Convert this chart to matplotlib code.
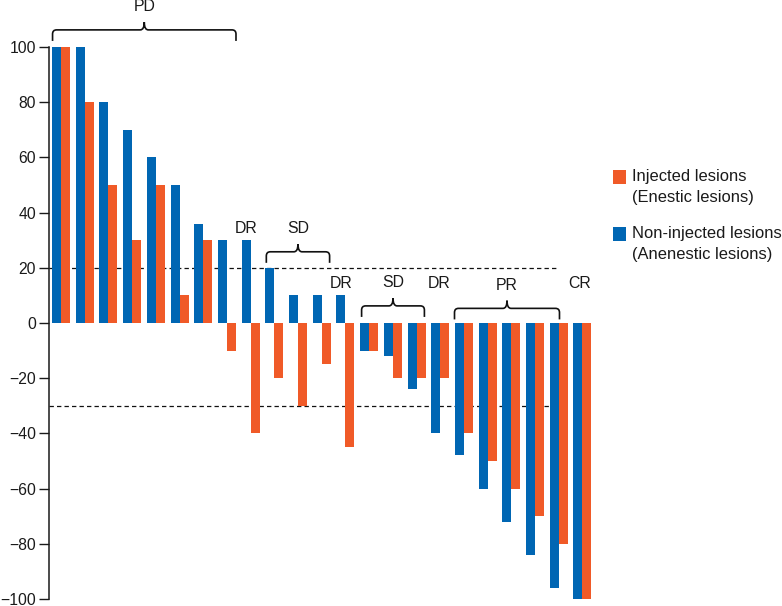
#!/usr/bin/env python3

import matplotlib

matplotlib.use("Agg")
import matplotlib.pyplot as plt
import numpy as np
from matplotlib.patches import PathPatch, Rectangle
from matplotlib.path import Path

# per-patient best change from baseline (%)
NON_INJECTED = [100, 100, 80, 70, 60, 50, 36, 30, 30, 20, 10, 10, 10,
                -10, -12, -24, -40, -48, -60, -72, -84, -96, -100]
INJECTED = [100, 80, 50, 30, 50, 10, 30, -10, -40, -20, -30, -15, -45,
            -10, -20, -20, -20, -40, -50, -60, -70, -80, -100]

Y_TICKS = [100, 80, 60, 40, 20, 0, -20, -40, -60, -80, -100]
THRESHOLDS = [20, -30]

# response groups: label, x start, x end, brace height
BRACES = [
    ("PD", -0.36, 7.38, 106.2),
    ("SD", 8.66, 11.33, 25.8),
    ("SD", 12.68, 15.33, 6.2),
    ("PR", 16.6, 21.03, 5.3),
]
# single labels: text, x, y
SINGLE_LABELS = [
    ("DR", 7.8, 34.4),
    ("DR", 11.8, 14.4),
    ("DR", 15.95, 14.4),
    ("CR", 21.9, 14.4),
]

LEGEND_LABELS = ["Injected lesions\n(Enestic lesions)",
                 "Non-injected lesions\n(Anenestic lesions)"]

ORANGE = "#f05a28"
BLUE = "#0066b3"
TEXT = "#1a1a1a"
TICK_FONT = 11.3
LABEL_FONT = 11.4
LEGEND_FONT = 11.9
BAR_W = 0.38

plt.rcParams.update({"font.family": ["Liberation Sans", "DejaVu Sans"]})

W, H = 782, 606
fig = plt.figure(figsize=(W / 100, H / 100), dpi=100)
ax_left, ax_right = 49, 596.7
ax_top, ax_bottom = 47, 599
ax = fig.add_axes([ax_left / W, 1 - ax_bottom / H,
                   (ax_right - ax_left) / W, (ax_bottom - ax_top) / H])

x = np.arange(len(NON_INJECTED))
ax.bar(x - BAR_W / 2, NON_INJECTED, width=BAR_W, color=BLUE, linewidth=0, zorder=2)
ax.bar(x + BAR_W / 2, INJECTED, width=BAR_W, color=ORANGE, linewidth=0, zorder=2)

for yv in THRESHOLDS:
    ax.plot([-0.51, 21.0], [yv, yv], color="#111111", lw=0.9,
            linestyle=(0, (3.5, 2.5)), zorder=1)

ax.set_xlim(-0.51, 22.6)
ax.set_ylim(-100, 100)
ax.set_yticks(Y_TICKS)
ax.set_xticks([])
ax.tick_params(axis="y", direction="out", length=7, width=1.0, pad=2.3,
               labelsize=TICK_FONT, colors=TEXT)
for side in ("top", "right", "bottom"):
    ax.spines[side].set_visible(False)
ax.spines["left"].set_linewidth(1.1)
ax.spines["left"].set_color(TEXT)


def draw_brace(x0, x1, y, drop=4.0, rise=2.8, rx=0.17, ry=1.5):
    xm = (x0 + x1) / 2
    verts = [
        (x0, y - drop), (x0, y - ry),
        (x0, y), (x0 + rx, y),
        (xm - rx, y),
        (xm, y), (xm, y + rise),
        (xm, y), (xm + rx, y),
        (x1 - rx, y),
        (x1, y), (x1, y - ry),
        (x1, y - drop),
    ]
    codes = [Path.MOVETO, Path.LINETO,
             Path.CURVE3, Path.CURVE3,
             Path.LINETO,
             Path.CURVE3, Path.CURVE3,
             Path.CURVE3, Path.CURVE3,
             Path.LINETO,
             Path.CURVE3, Path.CURVE3,
             Path.LINETO]
    ax.add_patch(PathPatch(Path(verts, codes), facecolor="none",
                           edgecolor="#111111", lw=1.2, clip_on=False, zorder=3))
    return xm


for label, x0, x1, yb in BRACES:
    xm = draw_brace(x0, x1, yb)
    ax.text(xm, yb + 8.4, label, ha="center", va="center", fontsize=LABEL_FONT,
            color=TEXT, clip_on=False)

for label, lx, ly in SINGLE_LABELS:
    ax.text(lx, ly, label, ha="center", va="center", fontsize=LABEL_FONT,
            color=TEXT)

# legend drawn by hand so the swatch sits on the first line
for (col, label), top in zip([(ORANGE, LEGEND_LABELS[0]), (BLUE, LEGEND_LABELS[1])],
                             [170, 227]):
    fig.add_artist(Rectangle((612.5 / W, 1 - (top + 13.5) / H), 13.5 / W, 13.5 / H,
                             transform=fig.transFigure, facecolor=col, linewidth=0))
    first, second = label.split("\n")
    fig.text(632.5 / W, 1 - (top + 6.5) / H, first, ha="left", va="center",
             fontsize=LEGEND_FONT, color=TEXT)
    fig.text(632.5 / W, 1 - (top + 27.5) / H, second, ha="left", va="center",
             fontsize=LEGEND_FONT, color=TEXT)

fig.savefig("out.png", dpi=100, facecolor="white")
